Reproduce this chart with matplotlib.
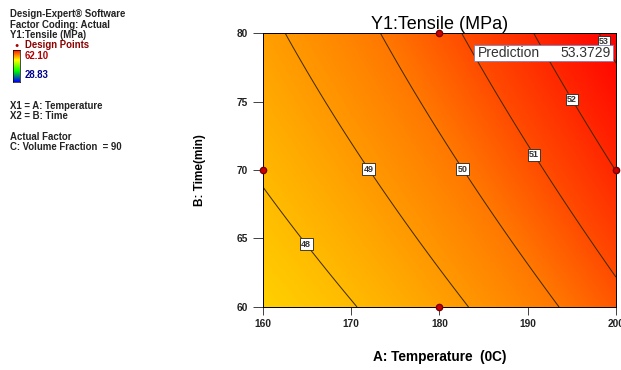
#!/usr/bin/env python3
"""
Contour plot of Y1: Tensile vs temperature and time (Design-Expert style)
"""
import numpy as np
import matplotlib
matplotlib.use('Agg')
import matplotlib.pyplot as plt
from matplotlib.colors import LinearSegmentedColormap

# coded model, A = (T - 180)/20, B = (t - 70)/10
coef_b0 = 49.73
coef_A = 1.96
coef_B = 1.0
coef_AB = 0.28
coef_A2 = 0.32
coef_B2 = -0.015

temp_range = [160, 200]
time_range = [60, 80]
contour_levels = [48, 49, 50, 51, 52, 53]

# design points (temperature, time)
design_temp = [160, 180, 180, 200]
design_time = [70, 80, 60, 70]

x_ticks = [160, 170, 180, 190, 200]
y_ticks = [60, 65, 70, 75, 80]

prediction_value = 53.3729
resp_high = 62.10
resp_low = 28.83


def tensile(T, t):
  A = (T - 180.0) / 20.0
  B = (t - 70.0) / 10.0
  return (coef_b0 + coef_A * A + coef_B * B + coef_AB * A * B
          + coef_A2 * A ** 2 + coef_B2 * B ** 2)


def main():
  plt.rcParams['font.family'] = ['Liberation Sans', 'DejaVu Sans']
  fig = plt.figure(figsize=(6.21, 3.70), dpi=100)
  ax = fig.add_axes([0.4235, 0.1703, 0.5684, 0.7405])

  T = np.linspace(temp_range[0], temp_range[1], 300)
  t = np.linspace(time_range[0], time_range[1], 300)
  TT, tt = np.meshgrid(T, t)
  Z = tensile(TT, tt)

  cmap = LinearSegmentedColormap.from_list(
    'de', [(0.0, '#FFD000'), (0.277, '#FF9800'), (0.446, '#FF7800'),
           (0.615, '#FF4C00'), (0.784, '#FF2800'), (1.0, '#FF0000')])
  ax.pcolormesh(TT, tt, Z, cmap=cmap, shading='gouraud',
                vmin=Z.min(), vmax=Z.max(), rasterized=True)
  cs = ax.contour(TT, tt, Z, levels=contour_levels, colors='#3a2a00', linewidths=0.7)
  # label spots
  spots = [(164.65, 64.45), (172.0, 70.07), (182.66, 70.07),
           (190.7, 71.1), (194.9, 75.1), (198.5, 79.3)]
  labels = ax.clabel(cs, fmt='%d', manual=spots, inline=True, fontsize=6.5,
                     inline_spacing=2)
  for lb in labels:
    lb.set_rotation(0)
    lb.set_fontweight('bold')
    lb.set_color('#333333')
    lb.set_bbox(dict(facecolor='white', edgecolor='#222222', linewidth=0.6, pad=1.0))

  ax.plot(design_temp, design_time, 'o', color='#cc0000', markeredgecolor='#7a0000',
          markersize=4.5, clip_on=False, zorder=5)

  ax.set_xlim(temp_range)
  ax.set_ylim(time_range)
  ax.set_xticks(x_ticks)
  ax.set_yticks(y_ticks)
  ax.tick_params(direction='out', length=6, width=0.6, labelsize=7.3, pad=3,
                 colors='#222222')
  ax.tick_params(axis='y', length=7, pad=4)
  for lab in ax.get_xticklabels() + ax.get_yticklabels():
    lab.set_fontweight('bold')
  for sp in ax.spines.values():
    sp.set_linewidth(0.7)

  ax.set_title('Y1:Tensile (MPa)', fontsize=13, pad=3)
  ax.set_xlabel('A: Temperature  (0C)', fontsize=9.8, fontweight='bold', labelpad=15)
  ax.set_ylabel('B: Time(min)', fontsize=8.5, fontweight='bold', labelpad=22)

  # prediction box
  ax.add_patch(plt.Rectangle((0.598, 0.898), 0.394, 0.058, transform=ax.transAxes,
                             facecolor='white', edgecolor='#7f7fc0', linewidth=0.6,
                             zorder=9, clip_on=False))
  ax.text(0.61, 0.927, 'Prediction', transform=ax.transAxes, fontsize=10,
          color='#333333', va='center', ha='left', zorder=10)
  ax.text(0.985, 0.927, '%.4f' % prediction_value, transform=ax.transAxes, fontsize=10,
          color='#333333', va='center', ha='right', zorder=10)

  # side info panel
  kw = dict(fontsize=6.9, fontweight='bold', color='#222222', va='center')
  fig.text(0.016, 0.962, 'Design-Expert\u00ae Software', **kw)
  fig.text(0.016, 0.933, 'Factor Coding: Actual', **kw)
  fig.text(0.016, 0.905, 'Y1:Tensile (MPa)', **kw)
  fig.text(0.023, 0.878, '\u25cf', fontsize=5, color='#aa0000', va='center')
  fig.text(0.040, 0.878, 'Design Points', fontsize=6.9, fontweight='bold',
           color='#8b0000', va='center')
  fig.text(0.040, 0.848, '%.2f' % resp_high, fontsize=6.9, fontweight='bold',
           color='#b00000', va='center')
  fig.text(0.040, 0.797, '%.2f' % resp_low, fontsize=6.9, fontweight='bold',
           color='#00008b', va='center')
  cax = fig.add_axes([0.021, 0.778, 0.011, 0.087])
  bar = LinearSegmentedColormap.from_list('bar', ['#0000ff', '#00ff00', '#ffff00', '#ff0000'])
  cax.imshow(np.linspace(0, 1, 50).reshape(-1, 1), cmap=bar, aspect='auto', origin='lower')
  cax.set_xticks([])
  cax.set_yticks([])
  for sp in cax.spines.values():
    sp.set_linewidth(0.5)
  fig.text(0.016, 0.714, 'X1 = A: Temperature', **kw)
  fig.text(0.016, 0.687, 'X2 = B: Time', **kw)
  fig.text(0.016, 0.630, 'Actual Factor', **kw)
  fig.text(0.016, 0.603, 'C: Volume Fraction  = 90', **kw)

  fig.savefig('out.png', dpi=100)
  plt.close(fig)


if __name__ == '__main__':
  main()
